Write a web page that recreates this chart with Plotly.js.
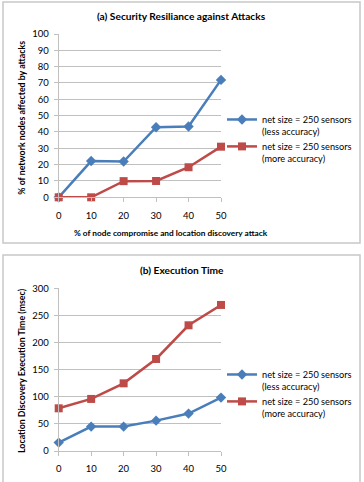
<!DOCTYPE html>
<html>
<head>
<meta charset="utf-8">
<script src="https://cdn.plot.ly/plotly-3.0.1.min.js"></script>
<style>
  html, body { margin: 0; padding: 0; background: #fff; }
  #chart { width: 364px; height: 482px; }
</style>
</head>
<body>
<div id="chart"></div>
<script>
// Shared x categories: % of node compromise / location discovery attack
const attackPct = [0, 10, 20, 30, 40, 50];

// (a) % of network nodes affected by attacks
const affectedLess = [0, 22.2, 21.9, 42.9, 43.4, 71.9];
const affectedMore = [0, 0, 9.9, 10, 18.4, 31];

// (b) Location discovery execution time (msec)
const timeLess = [15.5, 45, 45, 56, 69, 98.5];
const timeMore = [78.7, 96, 124.8, 169.7, 231.8, 269.3];

const seriesNames = [
  'net size = 250 sensors<br>(less accuracy)',
  'net size = 250 sensors<br>(more accuracy)'
];

const W = 364, H = 482;
const px = v => v / W;          // pixel -> paper x
const py = v => 1 - v / H;      // pixel -> paper y

const FONT = 'Lato, "Open Sans", sans-serif';
const BLUE = '#4a7ebb';
const RED = '#be4b48';
const GRID = '#c0c0c0';

function lineTrace(y, name, color, symbol, size, xa, ya, legend) {
  return {
    x: attackPct, y: y, name: name, type: 'scatter', mode: 'lines+markers',
    xaxis: xa, yaxis: ya, legend: legend, cliponaxis: false,
    line: { color: color, width: 2.5 },
    marker: { color: color, symbol: symbol, size: size }
  };
}

const data = [
  lineTrace(affectedLess, seriesNames[0], BLUE, 'diamond', 8, 'x', 'y', 'legend'),
  lineTrace(affectedMore, seriesNames[1], RED, 'square', 8, 'x', 'y', 'legend'),
  lineTrace(timeLess, seriesNames[0], BLUE, 'diamond', 8, 'x2', 'y2', 'legend2'),
  lineTrace(timeMore, seriesNames[1], RED, 'square', 8, 'x2', 'y2', 'legend2')
];

function xAxis(domain, anchor) {
  return {
    domain: domain, anchor: anchor, range: [0, 50], tickvals: attackPct,
    showgrid: false, zeroline: false, showline: true, linecolor: GRID, linewidth: 1,
    ticks: 'outside', ticklen: 4, tickcolor: GRID, ticklabelstandoff: 5,
    tickfont: { family: FONT, size: 9.5, color: '#000' }, fixedrange: true
  };
}
function yAxis(domain, anchor, max, step) {
  return {
    domain: domain, anchor: anchor, range: [0, max], dtick: step, tick0: 0,
    showgrid: true, gridcolor: GRID, gridwidth: 1, zeroline: false,
    showline: true, linecolor: GRID, linewidth: 1,
    ticks: 'outside', ticklen: 4, tickcolor: GRID, ticklabelstandoff: 3,
    tickfont: { family: FONT, size: 9.5, color: '#000' }, fixedrange: true
  };
}
function legendAt(xPix, yPix) {
  return {
    x: px(xPix), y: py(yPix), xanchor: 'left', yanchor: 'top',
    bgcolor: 'rgba(0,0,0,0)', borderwidth: 0, valign: 'top',
    itemwidth: 30, tracegroupgap: 0,
    font: { family: FONT, size: 9.2, color: '#000' }
  };
}
function label(text, x, y, size, opts) {
  return Object.assign({
    text: text, xref: 'paper', yref: 'paper', x: px(x), y: py(y),
    xanchor: 'center', yanchor: 'middle', showarrow: false,
    font: { family: FONT, size: size, color: '#000', weight: 'bold' }
  }, opts || {});
}

const layout = {
  width: W, height: H,
  margin: { l: 0, r: 0, t: 0, b: 0 },
  paper_bgcolor: '#fff', plot_bgcolor: '#fff',
  showlegend: true,
  xaxis: xAxis([px(58.7), px(221)], 'y'),
  yaxis: yAxis([py(197.3), py(34)], 'x', 100, 10),
  xaxis2: xAxis([px(58.7), px(221)], 'y2'),
  yaxis2: yAxis([py(451), py(288.3)], 'x2', 300, 50),
  legend: legendAt(222, 107),
  legend2: legendAt(222, 362),
  shapes: [
    { type: 'rect', xref: 'paper', yref: 'paper', x0: px(3), x1: px(360), y0: py(243), y1: py(2),
      line: { color: '#c8c8c8', width: 1.5 } },
    { type: 'rect', xref: 'paper', yref: 'paper', x0: px(3), x1: px(360), y0: py(495), y1: py(255),
      line: { color: '#c8c8c8', width: 1.5 } }
  ],
  annotations: [
    label('(a) Security Resiliance against Attacks', 181.7, 15.7, 10.2),
    label('% of node compromise and location discovery attack', 171, 232.7, 8.3),
    label('% of network nodes affected by attacks', 20.7, 118, 8.8, { textangle: -90 }),
    label('(b) Execution Time', 182, 270, 10.2),
    label('Location Discovery Execution Time (msec)', 21, 371, 8.8, { textangle: -90 })
  ]
};

Plotly.newPlot('chart', data, layout, { staticPlot: true, displayModeBar: false });
</script>
</body>
</html>
